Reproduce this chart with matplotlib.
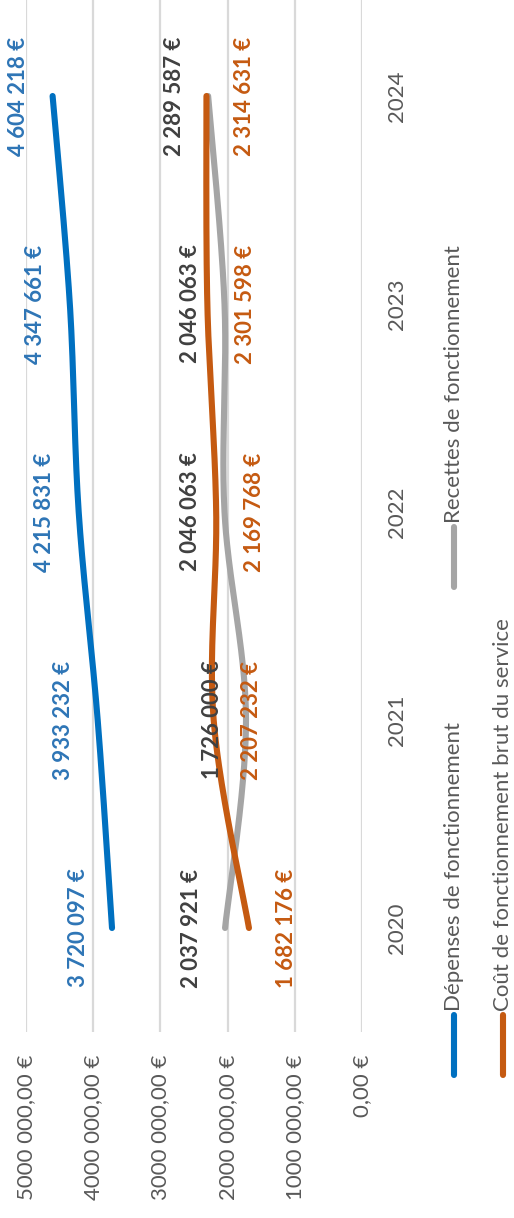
import numpy as np
import matplotlib
matplotlib.use("Agg")
import matplotlib.pyplot as plt
from matplotlib.lines import Line2D

plt.rcParams["font.family"] = ["Lato", "DejaVu Sans"]

years = [2020, 2021, 2022, 2023, 2024]
depenses = [3720097, 3933232, 4215831, 4347661, 4604218]
recettes = [2037921, 1726000, 2046063, 2046063, 2289587]
cout_brut = [1682176, 2207232, 2169768, 2301598, 2314631]

series_names = ["Dépenses de fonctionnement", "Recettes de fonctionnement",
                "Coût de fonctionnement brut du service"]
value_ticks = [0, 1000000, 2000000, 3000000, 4000000, 5000000]
value_tick_labels = ["0,00 €", "1000 000,00 €", "2000 000,00 €",
                     "3000 000,00 €", "4000 000,00 €", "5000 000,00 €"]

BLUE, GREY, ORANGE = "#0070C0", "#A5A5A5", "#C55A11"
BLUE_TXT, GREY_TXT, ORANGE_TXT = "#2E75B6", "#404040", "#C55A11"
AXIS_TXT = "#595959"
GRID = "#D9D9D9"

W, H = 514, 1218
fig = plt.figure(figsize=(W / 100, H / 100), dpi=100)


def fx(px):
    return px / W


def fy(py):
    return 1 - py / H


# value axis runs horizontally (right = 0), years run upward
left_px, right_px = 26, 362
bottom_px = 1032
step = (bottom_px - 928)  # half a category
top_px = bottom_px - 10 * step
ax = fig.add_axes([fx(left_px), fy(bottom_px), fx(right_px) - fx(left_px),
                   fy(top_px) - fy(bottom_px)])
ax.set_xlim(5000000, 0)
ax.set_ylim(2019.5, 2024.5)
for s in ax.spines.values():
    s.set_visible(False)
ax.set_xticks(value_ticks)
ax.set_xticklabels(value_tick_labels, rotation=90, color=AXIS_TXT, fontsize=16)
ax.tick_params(axis="x", length=0, pad=16)
ax.xaxis.grid(True, color=GRID, linewidth=1.6)
ax.set_axisbelow(True)
ax.yaxis.tick_right()
ax.set_yticks(years)
ax.set_yticklabels([str(y) for y in years], rotation=90, color=AXIS_TXT,
                   fontsize=16, va="center")
ax.tick_params(axis="y", length=0, pad=18)


def smooth(xs, ys, n=40):
    """Cardinal (Catmull-Rom style) Bezier smoothing through the points."""
    pts = np.column_stack([xs, ys]).astype(float)
    ext = np.vstack([pts[0], pts, pts[-1]])
    out = []
    for i in range(len(pts) - 1):
        p0, p1, p2, p3 = ext[i], ext[i + 1], ext[i + 2], ext[i + 3]
        c1 = p1 + (p2 - p0) / 6
        c2 = p2 - (p3 - p1) / 6
        t = np.linspace(0, 1, n)[:, None]
        seg = ((1 - t) ** 3) * p1 + 3 * ((1 - t) ** 2) * t * c1 \
            + 3 * (1 - t) * t ** 2 * c2 + t ** 3 * p2
        out.append(seg if i == 0 else seg[1:])
    out = np.vstack(out)
    return out[:, 0], out[:, 1]


def fmt(v):
    return f"{v:,}".replace(",", " ") + " €"


def draw(values, color, txt_color, offset):
    yy, xx = smooth(years, values)
    ax.plot(xx, yy, color=color, linewidth=4.4, solid_capstyle="round",
            zorder=3)
    for yr, v in zip(years, values):
        ax.annotate(fmt(v), xy=(v, yr), xytext=(offset, 0),
                    textcoords="offset pixels", rotation=90, ha="center",
                    va="center", fontsize=16, fontweight="bold",
                    color=txt_color, annotation_clip=False, zorder=4)


draw(depenses, BLUE, BLUE_TXT, -34)
draw(recettes, GREY, GREY_TXT, -34)
draw(cout_brut, ORANGE, ORANGE_TXT, 38)

# legend, laid out along the right edge
legend_items = [
    (series_names[0], BLUE, 454, 1075, 1015),
    (series_names[2], ORANGE, 503, 1075, 1015),
    (series_names[1], GREY, 454, 587, 527),
]
for name, color, x, y0, y1 in legend_items:
    fig.add_artist(Line2D([fx(x), fx(x)], [fy(y0), fy(y1)], color=color,
                          linewidth=4.4, solid_capstyle="round",
                          transform=fig.transFigure))
    fig.text(fx(x), fy(y1 - 4), name, rotation=90, ha="center", va="bottom",
             fontsize=16, color=AXIS_TXT)

fig.savefig("out.png", dpi=100, facecolor="white")
